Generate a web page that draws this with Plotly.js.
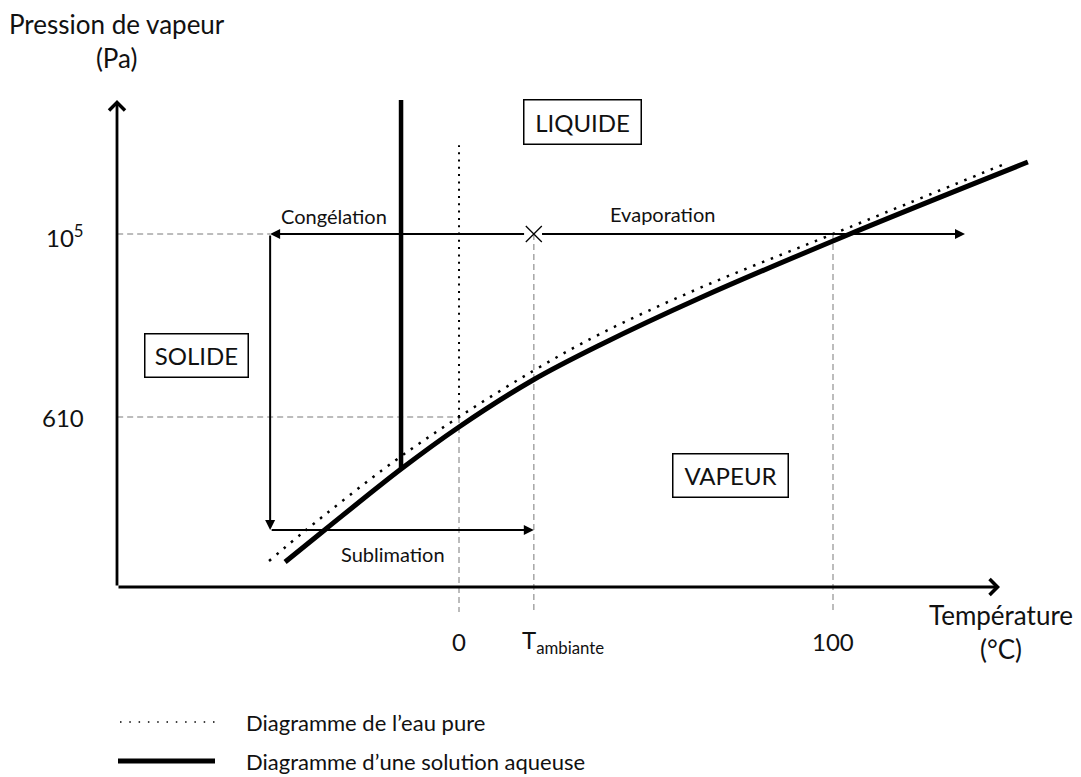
<!DOCTYPE html>
<html>
<head>
<meta charset="utf-8">
<script src="https://cdn.plot.ly/plotly-3.0.1.min.js"></script>
<style>html,body{margin:0;padding:0;background:#fff;}#chart{width:1081px;height:777px;}</style>
</head>
<body>
<div id="chart"></div>
<script>
// ---- Data (schematic phase diagram, temperature in °C, pressure in Pa) ----
const tempPure = [-50.8, -41.2, -17.6, 0, 19.8, 37.7, 64.4, 100, 146.5];
const presPure = [11.0, 25.5, 174, 610, 2198, 6166, 22210, 100000, 723000];
const tempSolution = [-46.5, -35.6, -15.5, 0, 19.8, 37.7, 64.4, 104.5, 152.1];
const presSolution = [10.7, 26.9, 143, 462, 1710, 4539, 16800, 100000, 743000];

const tFusionSolution = -15.5;
const fusionSolutionP = [143, 4.19e6];
const tFusionPure = 0;
const fusionPureP = [610, 1.19e6];

const tAmbiante = 20;
const tEbullition = 100;
const pAtm = 100000;
const pTriple = 610;
const tProcessLow = -50.5;   // end of congélation arrow
const pSublimation = 26.2;   // level of sublimation arrow
const tEvapEnd = 135.3;
const pGuideLow = 2.66;      // bottom of guide lines
const tAxisLeft = -91.4;

const xTickVals = [0, tAmbiante, tEbullition];
const xTickText = ['0', 'T<sub>ambiante</sub>', '100'];
const yTickVals = [pTriple, pAtm];
const yTickText = ['610', '10<sup>5</sup>'];

const legendLabels = ['Diagramme de l\u2019eau pure', 'Diagramme d\u2019une solution aqueuse'];

// ---- Traces ----
const FONT = 'Lato, "Open Sans", sans-serif';
const guide = {color: '#a6a6a6', width: 1.5, dash: '6px,4px'};
const traces = [];
function seg(x, y, line) {
  traces.push({x: x, y: y, mode: 'lines', line: line, hoverinfo: 'skip', showlegend: false});
}
// guide lines
seg([tAxisLeft, tProcessLow], [pAtm, pAtm], guide);
seg([tAxisLeft, xTickVals[0]], [pTriple, pTriple], guide);
xTickVals.forEach((t, i) => {
  seg([t, t], [i === 0 ? pTriple : pAtm, pGuideLow], guide);
});
// pure water fusion line (dotted)
seg([tFusionPure, tFusionPure], fusionPureP, {color: '#000', width: 2, dash: '2px,5.3px'});
// pure water curve (dotted)
traces.push({x: tempPure, y: presPure, mode: 'lines', line: {color: '#000', width: 2.5, dash: '2.5px,7px', shape: 'spline', smoothing: 1}, hoverinfo: 'skip', showlegend: false});
// solution curve
traces.push({x: tempSolution, y: presSolution, mode: 'lines', line: {color: '#000', width: 5, shape: 'spline', smoothing: 1}, hoverinfo: 'skip', showlegend: false});
// solution fusion line
seg([tFusionSolution, tFusionSolution], fusionSolutionP, {color: '#000', width: 4.5});
// initial state marker
traces.push({x: [tAmbiante], y: [pAtm], mode: 'markers', marker: {symbol: 'x-thin', size: 16, line: {color: '#000', width: 1.3}}, hoverinfo: 'skip', showlegend: false});

const L = v => Math.log10(v);
const W = 1081, H = 777;
const px = x => x / W, py = y => 1 - y / H;

function arrow(xh, yh, xt, yt) {
  return {x: xh, y: L(yh), ax: xt, ay: L(yt), xref: 'x', yref: 'y', axref: 'x', ayref: 'y',
    text: '', showarrow: true, arrowhead: 2, arrowsize: 1, arrowwidth: 2, arrowcolor: '#000', standoff: 0, startstandoff: 0};
}
function label(text, x, y, size, extra) {
  return Object.assign({text: text, x: px(x), y: py(y), xref: 'paper', yref: 'paper', showarrow: false,
    font: {family: FONT, size: size, color: '#111'}, xanchor: 'center', yanchor: 'middle'}, extra || {});
}
function box(text, x, y, w, h) {
  return label(text, x, y, 24, {bordercolor: '#000', borderwidth: 1.5, borderpad: 0, width: w, height: h, bgcolor: '#fff'});
}

const annotations = [
  // axes
  {x: px(1000), y: py(587), xref: 'paper', yref: 'paper', axref: 'pixel', ayref: 'pixel', ax: -883, ay: 0,
   text: '', showarrow: true, arrowhead: 4, arrowsize: 1.1, arrowwidth: 2.8, arrowcolor: '#000', standoff: 0},
  {x: px(117), y: py(100), xref: 'paper', yref: 'paper', axref: 'pixel', ayref: 'pixel', ax: 0, ay: 487,
   text: '', showarrow: true, arrowhead: 4, arrowsize: 1.1, arrowwidth: 2.8, arrowcolor: '#000', standoff: 0},
  // process arrows
  arrow(tProcessLow, pAtm, tAmbiante - 2.2, pAtm),
  arrow(tEvapEnd, pAtm, tAmbiante + 1.8, pAtm),
  arrow(tProcessLow, pSublimation, tProcessLow, pAtm),
  arrow(tAmbiante, pSublimation, tProcessLow, pSublimation),
  // arrow labels
  label('Congélation', 334, 216, 20),
  label('Evaporation', 662, 214, 20),
  label('Sublimation', 393, 554, 20),
  // phase boxes
  box('LIQUIDE', 582, 122, 116, 43),
  box('SOLIDE', 196, 355, 102, 42),
  box('VAPEUR', 730, 475, 114, 42),
  // axis titles
  label('Pression de vapeur<br>(Pa)', 117, 41, 26),
  label('Température<br>(°C)', 1001, 632, 26),
  // legend texts
  label(legendLabels[0], 244, 722, 22, {xanchor: 'left'}),
  label(legendLabels[1], 244, 761, 22, {xanchor: 'left'})
];
// x tick labels
xTickVals.forEach((t, i) => {
  annotations.push({text: xTickText[i], x: t, y: py(641), xref: 'x', yref: 'paper', showarrow: false,
    font: {family: FONT, size: 24, color: '#111'}, xanchor: i === 1 ? 'left' : 'center', xshift: i === 1 ? -14 : 0, yanchor: 'middle'});
});
// y tick labels
yTickVals.forEach((p, i) => {
  annotations.push({text: yTickText[i], x: px(86), y: L(p), xref: 'paper', yref: 'y', showarrow: false,
    font: {family: FONT, size: 24, color: '#111'}, xanchor: 'right', yanchor: 'middle', yshift: i === 1 ? -2 : -1});
});

const shapes = [
  {type: 'line', xref: 'paper', yref: 'paper', x0: px(120), x1: px(215), y0: py(722), y1: py(722), line: {color: '#000', width: 1.5, dash: '1.5px,7.8px'}},
  {type: 'line', xref: 'paper', yref: 'paper', x0: px(118), x1: px(215), y0: py(761), y1: py(761), line: {color: '#000', width: 5}}
];

const layout = {
  width: W, height: H, autosize: false,
  margin: {l: 0, r: 0, t: 0, b: 0, pad: 0},
  paper_bgcolor: '#fff', plot_bgcolor: '#fff',
  showlegend: false,
  xaxis: {range: [-122.73, 166.31], visible: false, fixedrange: true},
  yaxis: {type: 'log', range: [-1.572, 7.832], visible: false, fixedrange: true},
  annotations: annotations,
  shapes: shapes,
  font: {family: FONT}
};

Plotly.newPlot('chart', traces, layout, {staticPlot: true, displayModeBar: false});
</script>
</body>
</html>
